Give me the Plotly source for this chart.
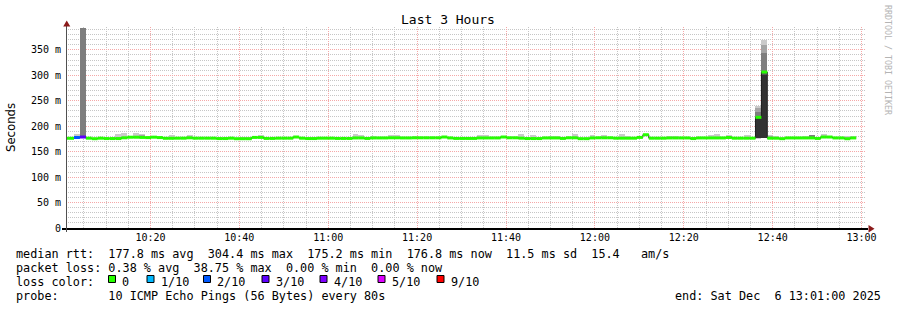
import datetime as dt
import plotly.graph_objects as go

# ---------------- data ----------------
START = dt.datetime(2025, 12, 6, 10, 0, 8)   # start of first 80 s step
STEP_S = 80
X_RANGE = ["2025-12-06 10:01:00", "2025-12-06 13:01:00"]

median_ms = [176.3, 176.3, 177.8, 178.8, 176.5, 175.5, 176.5, 175.8, 175.8, 175.8,
             177.3, 178.4, 178.4, 178.0, 177.7, 178.5, 177.7, 176.3, 176.3, 176.5,
             176.5, 177.3, 176.5, 176.5, 176.5, 176.5, 175.8, 175.8, 176.5, 175.5,
             175.5, 175.5, 178.0, 178.0, 176.0, 176.0, 176.5, 176.5, 176.5, 178.8,
             176.5, 175.8, 175.8, 176.5, 176.5, 176.5, 176.0, 176.0, 176.0, 177.0,
             177.0, 176.0, 177.0, 177.0, 177.0, 177.3, 177.3, 177.0, 177.0, 177.3,
             177.3, 177.3, 177.3, 177.3, 178.8, 177.0, 176.0, 176.0, 176.0, 176.0,
             177.0, 177.0, 177.0, 177.0, 178.8, 177.3, 177.3, 176.5, 175.8, 175.8,
             175.8, 177.0, 177.0, 177.0, 176.0, 177.3, 177.3, 175.6, 175.6, 177.0,
             177.3, 177.3, 177.3, 176.5, 176.5, 176.5, 176.5, 178.0, 183.3, 176.5,
             176.5, 176.5, 177.0, 177.0, 177.0, 177.0, 175.8, 177.0, 177.0, 177.0,
             177.0, 177.0, 177.8, 176.5, 176.5, 176.5, 176.5, 217.5, 306.5, 176.5,
             176.5, 175.6, 177.0, 177.0, 177.0, 177.0, 177.0, 176.0, 178.8, 178.8,
             177.0, 177.0, 175.5, 177.0]

loss_steps = [2, 3]          # steps with packet loss
loss_count = [2, 3]          # lost pings out of 10

# outer smoke (min .. max rtt) for steps where it shows
smoke_steps  = [2, 3, 9, 10, 12, 13, 16, 18, 21, 30, 31, 33, 49, 50, 52, 55, 56, 59,
                70, 71, 77, 79, 82, 83, 86, 89, 91, 94, 95, 102, 103, 109, 110, 112,
                115, 117, 118, 119, 120, 125, 126, 128, 132, 133]
smoke_bottom = [176, 177, 176, 176, 177, 177, 176, 175, 176, 174.5, 174.5, 176, 176, 176,
                176, 176, 176, 176, 176, 176, 175.5, 175, 176, 176, 176, 176, 176, 175.5,
                175.5, 176, 176, 176, 176, 177, 175.5, 175.5, 176, 175.5, 175.5, 175.5,
                176, 177, 175, 175.5]
smoke_top    = [184.7, 392.5, 184.7, 187, 187, 184.7, 181, 183, 183, 179.5, 179.5, 183.5,
                184.7, 183, 180.5, 183, 183, 181, 183.5, 183.5, 184.7, 183.5, 181, 181,
                184.7, 183.5, 183, 184, 181, 181, 181, 183, 185, 183, 182.7, 240, 369.5,
                183.5, 180.5, 181.5, 183.3, 185.7, 181, 181]

# inner smoke bands (level 2..5 = darker)
inner_steps  = [3, 13, 119, 126, 117, 117, 117, 118, 118, 118, 118]
inner_level  = [3, 2, 2, 3, 2, 3, 5, 2, 3, 4, 5]
inner_bottom = [177, 177, 176, 176, 176, 176.5, 177, 176.5, 177, 177.5, 177.5]
inner_top    = [392.5, 182, 181, 183.3, 235, 228, 217, 360, 343, 306, 300]

y_tick_vals = [0, 50, 100, 150, 200, 250, 300, 350]
y_tick_text = ["0", "50 m", "100 m", "150 m", "200 m", "250 m", "300 m", "350 m"]

loss_labels = ["0", "1/10", "2/10", "3/10", "4/10", "5/10", "9/10"]
loss_colors = ["#26ff00", "#00b8ff", "#0059ff", "#5e00ff", "#7e00ff", "#dd00ff", "#ff0000"]
loss_color_of = {0: "#26ff00", 1: "#00b8ff", 2: "#0059ff", 3: "#5e00ff",
                 4: "#7e00ff", 5: "#dd00ff", 9: "#ff0000"}
smoke_colors = ["#cacaca", "#a4a4a4", "#7e7e7e", "#585858", "#323232"]

title_text = "Last 3 Hours"
line1 = "median rtt:  177.8 ms avg  304.4 ms max  175.2 ms min  176.8 ms now  11.5 ms sd  15.4   am/s"
line2 = "packet loss: 0.38 % avg  38.75 % max  0.00 % min  0.00 % now"
line3 = "loss color:"
line4 = "probe:       10 ICMP Echo Pings (56 Bytes) every 80s"
end_text = "end: Sat Dec  6 13:01:00 2025"
watermark = "RRDTOOL / TOBI OETIKER"

# ---------------- layout geometry (pixels) ----------------
W, H = 897, 310
L, R, T, B = 66, 31, 27, 82
PW, PH = W - L - R, H - T - B
MONO = "DejaVu Sans Mono"


def px(xp):
    return (xp - L) / PW


def py(yp):
    return (H - B - yp) / PH


def nb(s):
    return s.replace(" ", "\u00a0")


def t_at(i):
    return START + dt.timedelta(seconds=STEP_S * i)


n = len(median_ms)
loss_per_step = [0] * n
for s, c in zip(loss_steps, loss_count):
    loss_per_step[s] = c

fig = go.Figure()

# smoke: outer band
fig.add_trace(go.Bar(
    x=[t_at(s) + dt.timedelta(seconds=STEP_S / 2) for s in smoke_steps],
    base=smoke_bottom,
    y=[t - b for t, b in zip(smoke_top, smoke_bottom)],
    width=STEP_S * 1000,
    marker=dict(color=smoke_colors[0], line=dict(width=0)),
    hoverinfo="skip"))

# smoke: inner bands, from light to dark
for lvl in range(2, 6):
    idx = [k for k, l in enumerate(inner_level) if l == lvl]
    if not idx:
        continue
    fig.add_trace(go.Bar(
        x=[t_at(inner_steps[k]) + dt.timedelta(seconds=STEP_S / 2) for k in idx],
        base=[inner_bottom[k] for k in idx],
        y=[inner_top[k] - inner_bottom[k] for k in idx],
        width=STEP_S * 1000,
        marker=dict(color=smoke_colors[lvl - 1], line=dict(width=0)),
        hoverinfo="skip"))

# thin dark median step line
fig.add_trace(go.Scatter(
    x=[t_at(i) for i in range(n + 1)],
    y=median_ms + [median_ms[-1]],
    mode="lines", line=dict(color="#202020", width=1, shape="hv"),
    hoverinfo="skip"))

# median segments coloured by loss
for lc, col in loss_color_of.items():
    xs, ys = [], []
    for i in range(n):
        if loss_per_step[i] == lc:
            xs += [t_at(i), t_at(i + 1), None]
            ys += [median_ms[i], median_ms[i], None]
    if xs:
        fig.add_trace(go.Scatter(x=xs, y=ys, mode="lines",
                                 line=dict(color=col, width=3),
                                 connectgaps=False, hoverinfo="skip"))

MAJOR = "#f5a8a8"
MINOR = "#c6c6c6"
DASH = "1px,1px"

fig.update_layout(
    width=W, height=H, autosize=False,
    margin=dict(l=L, r=R, t=T, b=B, pad=0),
    paper_bgcolor="white", plot_bgcolor="white",
    showlegend=False, barmode="overlay", bargap=0,
    font=dict(family=MONO, size=10, color="#000000"),
    xaxis=dict(type="date", range=X_RANGE, tickformat="%H:%M",
               tick0="2025-12-06 10:00:00", dtick=20 * 60 * 1000,
               showgrid=True, gridcolor=MAJOR, griddash=DASH, gridwidth=1,
               minor=dict(tick0="2025-12-06 10:00:00", dtick=5 * 60 * 1000,
                          showgrid=True, gridcolor=MINOR, griddash=DASH, gridwidth=1),
               zeroline=False, showline=False, ticks="",
               tickfont=dict(family=MONO, size=10, color="#000000"),
               ticklabelstandoff=2, fixedrange=True),
    yaxis=dict(range=[0, 395], tickmode="array", tickvals=y_tick_vals, ticktext=y_tick_text,
               showgrid=True, gridcolor=MAJOR, griddash=DASH, gridwidth=1,
               minor=dict(tickmode="array", tickvals=list(range(10, 391, 10)),
                          showgrid=True, gridcolor=MINOR, griddash=DASH, gridwidth=1),
               zeroline=False, showline=False, ticks="",
               tickfont=dict(family=MONO, size=10, color="#000000"),
               ticklabelstandoff=4, fixedrange=True),
)

shapes = []
# axes
shapes.append(dict(type="line", xref="paper", yref="paper", x0=px(62), x1=px(868),
                   y0=py(229), y1=py(229), line=dict(color="#000000", width=2), layer="above"))
shapes.append(dict(type="line", xref="paper", yref="paper", x0=px(66.5), x1=px(66.5),
                   y0=py(232), y1=py(24), line=dict(color="#505050", width=1), layer="above"))
# arrows
shapes.append(dict(type="path", xref="paper", yref="paper",
                   path=f"M {px(63.2)} {py(26.5)} L {px(70.3)} {py(26.5)} L {px(66.7)} {py(20.5)} Z",
                   fillcolor="#8b1a1a", line=dict(width=0), layer="above"))
shapes.append(dict(type="path", xref="paper", yref="paper",
                   path=f"M {px(868.5)} {py(225)} L {px(868.5)} {py(232.5)} L {px(874.5)} {py(228.8)} Z",
                   fillcolor="#8b1a1a", line=dict(width=0), layer="above"))

# loss colour boxes
box_x = [108.5, 147, 203.5, 262, 320, 378, 437]
for bx, col in zip(box_x, loss_colors):
    shapes.append(dict(type="rect", xref="paper", yref="paper",
                       x0=px(bx), x1=px(bx + 7), y0=py(282.5), y1=py(275.5),
                       fillcolor=col, line=dict(color="#000000", width=1), layer="above"))
fig.update_layout(shapes=shapes)

LEG = 11.8


def text(s, xp, yp, size=LEG, anchor="left", family=MONO, color="#000000", angle=0):
    fig.add_annotation(text=nb(s), xref="paper", yref="paper", x=px(xp), y=py(yp),
                       xanchor=anchor, yanchor="middle", showarrow=False,
                       borderpad=0, borderwidth=0, textangle=angle,
                       font=dict(family=family, size=size, color=color))


text(title_text, 447.5, 19.5, size=13, anchor="center")
text(line1, 15.5, 254)
text(line2, 15.5, 268)
text(line3, 15.5, 282)
text(line4, 15.5, 296)
text(end_text, 881, 296, anchor="right")
for bx, lab in zip(box_x, loss_labels):
    text(lab, bx + 13.5, 282)
text("Seconds", 11, 127, size=11.7, anchor="center", family="DejaVu Sans", angle=-90)
text(watermark, 888, 60, size=8.3, anchor="center", color="#b4b4b4", angle=90)

fig.write_html("out.html", config={"staticPlot": True})
